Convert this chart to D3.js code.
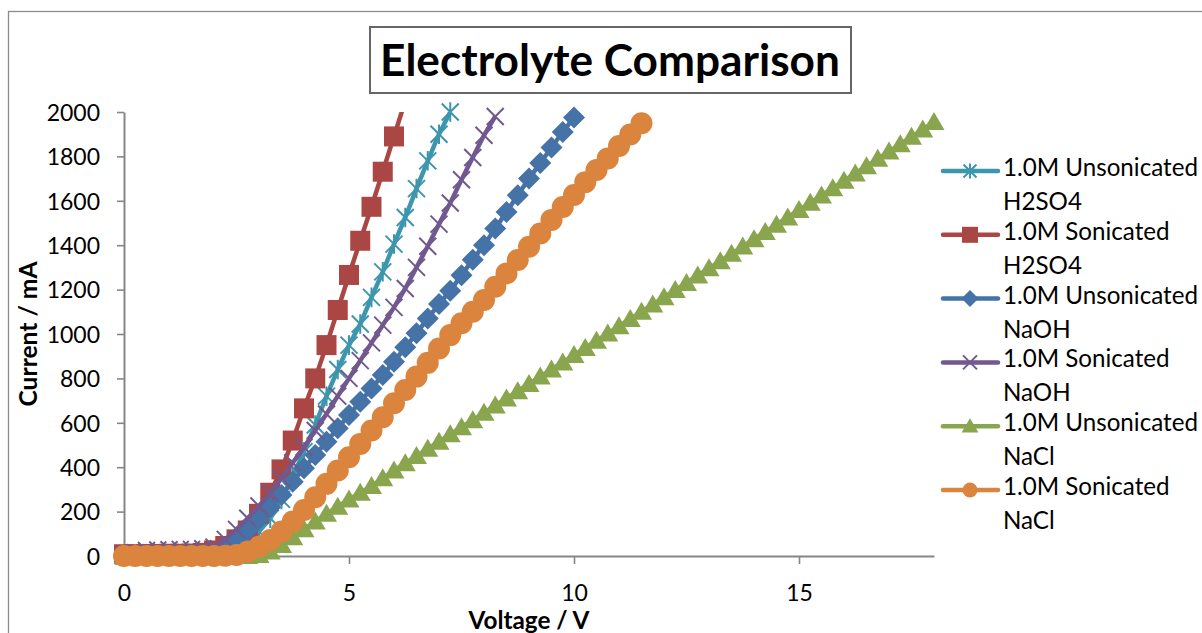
<!DOCTYPE html>
<html>
<head>
<meta charset="utf-8">
<script src="https://cdn.jsdelivr.net/npm/d3@7"></script>
<style>
  body { margin: 0; background: #fff; }
  svg { display: block; }
  text { font-family: Lato, "Open Sans", "Noto Sans", sans-serif; fill: #000; }
</style>
</head>
<body>
<svg id="chart" width="1202" height="633"></svg>
<script>
// ---------------- DATA ----------------
const voltage = [0, 0.25, 0.5, 0.75, 1, 1.25, 1.5, 1.75, 2, 2.25, 2.5, 2.75, 3, 3.25, 3.5, 3.75,
  4, 4.25, 4.5, 4.75, 5, 5.25, 5.5, 5.75, 6, 6.25, 6.5, 6.75, 7, 7.25, 7.5, 7.75,
  8, 8.25, 8.5, 8.75, 9, 9.25, 9.5, 9.75, 10, 10.25, 10.5, 10.75, 11, 11.25, 11.5, 11.75,
  12, 12.25, 12.5, 12.75, 13, 13.25, 13.5, 13.75, 14, 14.25, 14.5, 14.75, 15, 15.25, 15.5, 15.75,
  16, 16.25, 16.5, 16.75, 17, 17.25, 17.5, 17.75, 18];

const unsonicatedH2SO4 = [0, 2, 3, 4, 5, 5, 6, 8, 12, 20, 40, 70, 110, 170, 255, 360,
  470, 590, 720, 840, 950, 1045, 1165, 1280, 1405, 1525, 1655, 1780, 1900, 2000];

const sonicatedH2SO4 = [8, 8, 9, 9, 10, 10, 11, 14, 25, 45, 75, 115, 190, 285, 390, 520,
  665, 800, 950, 1108, 1266, 1420, 1573, 1731, 1890, 2050];

const unsonicatedNaOH = [0, 1, 1, 2, 2, 3, 4, 6, 12, 30, 70, 115, 165, 220, 275, 335,
  395, 455, 515, 575, 635, 695, 755, 815, 875, 940, 1003, 1070, 1135, 1195, 1265, 1335,
  1400, 1475, 1550, 1625, 1700, 1770, 1840, 1910, 1975];

const sonicatedNaOH = [5, 15, 25, 27, 28, 30, 30, 33, 40, 75, 120, 170, 225, 285, 350, 420,
  490, 565, 640, 720, 800, 880, 960, 1040, 1120, 1205, 1300, 1395, 1495, 1590, 1695, 1795,
  1895, 1980];

const unsonicatedNaCl = [0, 0, 0, 0, 0, 0, 0, 0, 0, 0, 0, 0, 5, 20, 50, 85,
  120, 155, 190, 222, 255, 285, 315, 350, 385, 418, 450, 483, 515, 548, 580, 612,
  645, 678, 710, 742, 775, 808, 840, 872, 905, 937, 970, 1002, 1035, 1068, 1100, 1133,
  1165, 1198, 1230, 1263, 1296, 1328, 1361, 1394, 1427, 1460, 1492, 1525, 1558, 1591, 1624, 1657,
  1690, 1723, 1756, 1789, 1822, 1855, 1888, 1921, 1955];

const sonicatedNaCl = [0, 0, 0, 0, 0, 0, 0, 0, 0, 1, 5, 20, 42, 72, 110, 155,
  207, 265, 325, 385, 445, 505, 565, 625, 688, 748, 808, 870, 935, 995, 1048, 1100,
  1153, 1213, 1273, 1333, 1393, 1453, 1514, 1572, 1626, 1684, 1739, 1791, 1847, 1899, 1949];

const seriesNames = ["1.0M Unsonicated H2SO4", "1.0M Sonicated H2SO4", "1.0M Unsonicated NaOH",
  "1.0M Sonicated NaOH", "1.0M Unsonicated NaCl", "1.0M Sonicated NaCl"];
const seriesValues = [unsonicatedH2SO4, sonicatedH2SO4, unsonicatedNaOH, sonicatedNaOH, unsonicatedNaCl, sonicatedNaCl];
const seriesColors = ["#3D96AE", "#AA4643", "#4572A7", "#71588F", "#89A54E", "#DB843D"];
const seriesMarkers = ["star", "square", "diamond", "x", "triangle", "circle"];

const xTicks = [0, 5, 10, 15];
const yTicks = [0, 200, 400, 600, 800, 1000, 1200, 1400, 1600, 1800, 2000];
const titleText = "Electrolyte Comparison";
const xTitle = "Voltage / V";
const yTitle = "Current / mA";

// ---------------- LAYOUT ----------------
const svg = d3.select("#chart");
const plot = { left: 124, right: 934, top: 112, bottom: 556 };
const x = d3.scaleLinear().domain([0, 18]).range([plot.left, plot.right]);
const y = d3.scaleLinear().domain([0, 2000]).range([plot.bottom, plot.top]);

function fitText(sel, target) {
  const fs = parseFloat(sel.attr("font-size"));
  const len = sel.node().getComputedTextLength();
  if (len > 0) sel.attr("font-size", (fs * target / len).toFixed(2));
  return sel;
}

// outer chart border
svg.append("rect").attr("x", 8.5).attr("y", 11.5).attr("width", 1300).attr("height", 700)
  .attr("fill", "#fff").attr("stroke", "#8c8c8c").attr("stroke-width", 1.3);

// ---------------- AXES ----------------
const axisColor = "#868686";
const yAxis = svg.append("g").attr("transform", `translate(${plot.left},0)`)
  .call(d3.axisLeft(y).tickValues(yTicks).tickSize(7).tickSizeOuter(0).tickPadding(17).tickFormat(d3.format("d")));
const xAxis = svg.append("g").attr("transform", `translate(0,${plot.bottom})`)
  .call(d3.axisBottom(x).tickValues(xTicks).tickSize(8).tickSizeOuter(0).tickPadding(21).tickFormat(d3.format("d")));
[xAxis, yAxis].forEach(a => {
  a.select(".domain").attr("stroke", axisColor).attr("stroke-width", 2);
  a.selectAll(".tick line").attr("stroke", axisColor).attr("stroke-width", 1.6);
  a.selectAll(".tick text").attr("font-size", 23).attr("font-family", "Lato, 'Open Sans', sans-serif").attr("fill", "#000");
});
yAxis.selectAll(".tick text").attr("dy", "0.36em");

// axis titles
const xt = svg.append("text").attr("x", 529).attr("y", 629).attr("text-anchor", "middle")
  .attr("font-weight", "bold").attr("font-size", 21).text(xTitle);
fitText(xt, 121);
const yt = svg.append("text").attr("transform", "translate(37,334) rotate(-90)").attr("text-anchor", "middle")
  .attr("font-weight", "bold").attr("font-size", 21).text(yTitle);
fitText(yt, 145);

// ---------------- SERIES ----------------
svg.append("defs").append("clipPath").attr("id", "plotClip")
  .append("rect").attr("x", plot.left).attr("y", plot.top)
  .attr("width", plot.right - plot.left).attr("height", plot.bottom - plot.top + 6);

function markerPath(type, s) {
  switch (type) {
    case "star": return `M${-s},${-s}L${s},${s}M${-s},${s}L${s},${-s}M0,${-s * 1.15}L0,${s * 1.15}`;
    case "x": return `M${-s},${-s}L${s},${s}M${-s},${s}L${s},${-s}`;
    case "square": return `M${-s},${-s}H${s}V${s}H${-s}Z`;
    case "diamond": return `M0,${-s}L${s},0L0,${s}L${-s},0Z`;
    case "triangle": return `M0,${-s}L${s * 1.05},${s * 0.8}L${-s * 1.05},${s * 0.8}Z`;
    case "circle": return `M${s},0A${s},${s} 0 1,1 ${-s},0A${s},${s} 0 1,1 ${s},0Z`;
  }
}
const plotMarkerSize = { star: 8.5, x: 8.5, square: 10, diamond: 11, triangle: 10, circle: 11 };
const legendMarkerSize = { star: 6.5, x: 7, square: 8, diamond: 8.5, triangle: 8, circle: 7.5 };
function styleMarker(sel, type, color) {
  if (type === "star" || type === "x") {
    sel.attr("fill", "none").attr("stroke", color).attr("stroke-width", 2);
  } else {
    sel.attr("fill", color).attr("stroke", "none");
  }
}

const line = d3.line().x(d => x(d[0])).y(d => y(d[1]));

seriesValues.forEach((vals, i) => {
  const pts = vals.map((v, k) => [voltage[k], v]);
  const g = svg.append("g");
  g.append("path").datum(pts).attr("d", line).attr("fill", "none")
    .attr("stroke", seriesColors[i]).attr("stroke-width", 4.5)
    .attr("stroke-linejoin", "round").attr("clip-path", "url(#plotClip)");
  const type = seriesMarkers[i];
  g.selectAll("path.m").data(pts.filter(p => p[1] <= 2000)).join("path").attr("class", "m")
    .attr("transform", d => `translate(${x(d[0])},${y(d[1])})`)
    .attr("d", markerPath(type, plotMarkerSize[type]))
    .call(styleMarker, type, seriesColors[i]);
});

// ---------------- LEGEND ----------------
const legend = svg.append("g");
// common legend font size, fitted so "1.0M Unsonicated" spans ~195px
const probe = legend.append("text").attr("font-size", 22).text("1.0M Unsonicated");
const legendFont = (22 * 195 / probe.node().getComputedTextLength()).toFixed(2);
probe.remove();
seriesNames.forEach((name, i) => {
  const cy = 168 + i * 63.8;
  const cut = name.lastIndexOf(" ");
  const l1 = name.slice(0, cut), l2 = name.slice(cut + 1);
  legend.append("line").attr("x1", 943).attr("x2", 998).attr("y1", cy + 3).attr("y2", cy + 3)
    .attr("stroke", seriesColors[i]).attr("stroke-width", 4.5).attr("stroke-linecap", "round");
  legend.append("path").attr("transform", `translate(970,${cy + 3})`)
    .attr("d", markerPath(seriesMarkers[i], legendMarkerSize[seriesMarkers[i]]))
    .call(styleMarker, seriesMarkers[i], seriesColors[i]);
  legend.append("text").attr("x", 1003).attr("y", cy + 8).attr("font-size", legendFont).text(l1);
  legend.append("text").attr("x", 1003).attr("y", cy + 8 + 34).attr("font-size", legendFont).text(l2);
});

// ---------------- TITLE ----------------
svg.append("rect").attr("x", 370).attr("y", 27).attr("width", 481).attr("height", 66)
  .attr("fill", "#fff").attr("stroke", "#666").attr("stroke-width", 2);
const tt = svg.append("text").attr("x", 610).attr("y", 76).attr("text-anchor", "middle")
  .attr("font-weight", "bold").attr("font-size", 40).text(titleText);
fitText(tt, 460);
</script>
</body>
</html>
